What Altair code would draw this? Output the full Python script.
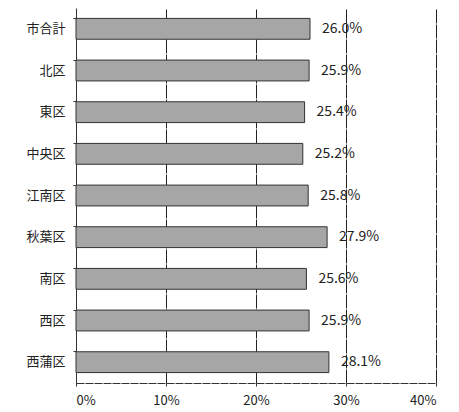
import altair as alt
import pandas as pd

wards = ["市合計", "北区", "東区", "中央区", "江南区", "秋葉区", "南区", "西区", "西蒲区"]
rates = [26.0, 25.9, 25.4, 25.2, 25.8, 27.9, 25.6, 25.9, 28.1]
x_ticks = [0, 10, 20, 30, 40]

df = pd.DataFrame({"ward": wards, "rate": rates})
df["label"] = [f"{v:.1f}%" for v in rates]

FONT = "Noto Sans CJK JP"

y_enc = alt.Y("ward:N", sort=wards, title=None,
              scale=alt.Scale(paddingInner=0.5, paddingOuter=0.25),
              axis=alt.Axis(labelFont=FONT, labelFontSize=13, labelColor="#222",
                            labelPadding=8, domainColor="#333", tickColor="#333",
                            tickSize=3, bandPosition=0, grid=False))
x_enc = alt.X("rate:Q", title=None,
              scale=alt.Scale(domain=[0, 40], nice=False),
              axis=alt.Axis(values=x_ticks, labelExpr="datum.value + '%'",
                            labelFont=FONT, labelFontSize=13, labelColor="#222",
                            labelPadding=8, domainColor="#333", domainDash=[8, 1],
                            tickColor="#333", tickSize=3, grid=True,
                            gridColor="#222", gridWidth=1, gridDash=[14, 1]))

bars = alt.Chart(df).mark_bar(color="#a6a6a6", stroke="#333", strokeWidth=1).encode(
    x=x_enc, y=y_enc
)
labels = alt.Chart(df).mark_text(align="left", dx=12, font=FONT, fontSize=14,
                                 color="#222", baseline="middle").encode(
    x=alt.X("rate:Q"), y=alt.Y("ward:N", sort=wards), text="label:N"
)

chart = (bars + labels).properties(
    width=360, height=375,
    autosize=alt.AutoSizeParams(type="none"),
    padding={"left": 76, "top": 8, "right": 23, "bottom": 29},
    background="white",
).configure_view(stroke=None)

chart.save("out.html", embed_options={"renderer": "svg", "actions": False})
